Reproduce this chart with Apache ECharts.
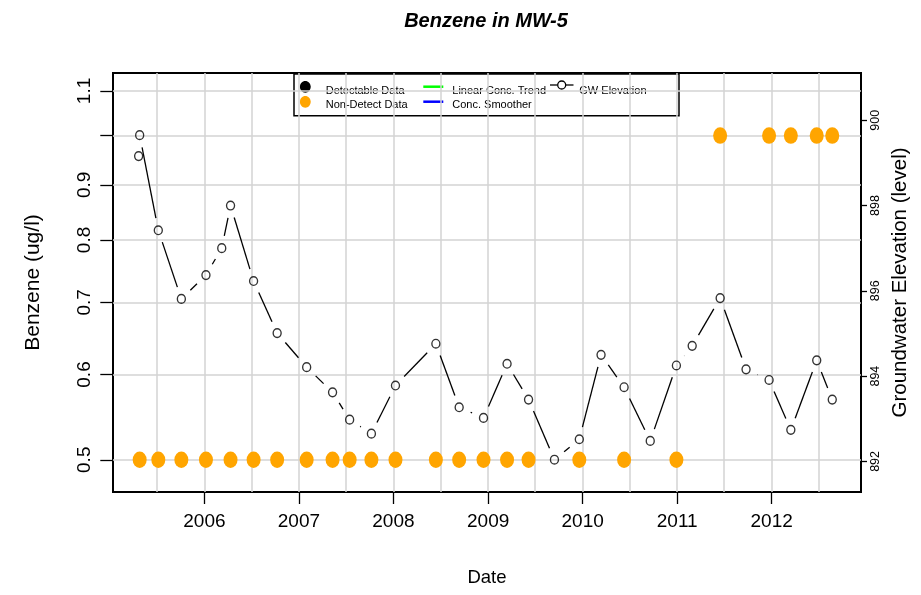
<!DOCTYPE html>
<html>
<head>
<meta charset="utf-8">
<title>Benzene in MW-5</title>
<script src="https://cdn.jsdelivr.net/npm/echarts@6/dist/echarts.min.js"></script>
<style>
  html, body { margin: 0; padding: 0; background: #ffffff; }
  #chart { width: 921px; height: 595px; }
</style>
</head>
<body>
<div id="chart"></div>
<script>
// Groundwater elevation readings (right axis)
const gwDates = [
  '2005-04-22', '2005-04-26', '2005-07-07', '2005-10-04', '2006-01-07', '2006-03-09',
  '2006-04-12', '2006-07-10', '2006-10-09', '2007-01-31', '2007-05-11', '2007-07-16',
  '2007-10-08', '2008-01-09', '2008-06-13', '2008-09-11', '2008-12-14', '2009-03-15',
  '2009-06-06', '2009-09-14', '2009-12-19', '2010-03-13', '2010-06-10', '2010-09-19',
  '2010-12-29', '2011-02-28', '2011-06-16', '2011-09-24', '2011-12-22', '2012-03-15',
  '2012-06-23', '2012-08-22'
];
const gwLevels = [
  899.16, 899.65, 897.42, 895.81, 896.37, 897.00,
  898.00, 896.23, 895.01, 894.21, 893.62, 892.98,
  892.65, 893.78, 894.76, 893.27, 893.02, 894.29,
  893.45, 892.04, 892.52, 894.50, 893.74, 892.48,
  894.25, 894.71, 895.83, 894.16, 893.91, 892.74,
  894.37, 893.45
];

// Benzene results reported below detection limit (left axis, ug/l)
const ndDates = [
  '2005-04-26', '2005-07-07', '2005-10-04', '2006-01-07', '2006-04-12', '2006-07-10',
  '2006-10-09', '2007-01-31', '2007-05-11', '2007-07-16', '2007-10-08', '2008-01-09',
  '2008-06-13', '2008-09-11', '2008-12-14', '2009-03-15', '2009-06-06', '2009-12-19',
  '2010-06-10', '2010-12-29', '2011-06-16', '2011-12-22', '2012-03-15', '2012-06-23',
  '2012-08-22'
];
const ndValues = [
  0.5, 0.5, 0.5, 0.5, 0.5, 0.5,
  0.5, 0.5, 0.5, 0.5, 0.5, 0.5,
  0.5, 0.5, 0.5, 0.5, 0.5, 0.5,
  0.5, 0.5, 1.0, 1.0, 1.0, 1.0,
  1.0
];

// Axis ticks and labels
const yearTicks = ['2006-01-01', '2007-01-01', '2008-01-01', '2009-01-01', '2010-01-01', '2011-01-01', '2012-01-01'];
const gridDates = [
  '2005-07-01', '2006-01-01', '2006-07-01', '2007-01-01', '2007-07-01', '2008-01-01', '2008-07-01',
  '2009-01-01', '2009-07-01', '2010-01-01', '2010-07-01', '2011-01-01', '2011-07-01', '2012-01-01',
  '2012-07-01'
];
const concTicks = [0.5, 0.6, 0.7, 0.8, 0.9, 1.0, 1.1];
const concLabels = ['0.5', '0.6', '0.7', '0.8', '0.9', '', '1.1'];
const levelTicks = [892, 894, 896, 898, 900];

const xRange = ['2005-01-13', '2012-12-11'];
const concRange = [0.4667, 1.1431];
const levelRange = [891.283, 901.108];

const FONT = '"Liberation Sans", Arial, Helvetica, sans-serif';

// dates are placed on a millisecond value scale
function toTime(s) {
  const [y, m, d] = s.split('-').map(Number);
  return Date.UTC(y, m - 1, d);
}
// concentration axis is logarithmic: values are placed on a natural-log value scale
const toLog = (v) => Math.log(v);

const chart = echarts.init(document.getElementById('chart'), null, { renderer: 'canvas' });

const gwPoints = gwDates.map((d, i) => [toTime(d), gwLevels[i]]);
const gwSegments = [];
for (let i = 0; i < gwPoints.length - 1; i++) {
  gwSegments.push([gwPoints[i][0], gwPoints[i][1], gwPoints[i + 1][0], gwPoints[i + 1][1]]);
}
const ndPoints = ndDates.map((d, i) => [toTime(d), toLog(ndValues[i])]);

// Legend drawn as plain graphics inside a bordered box
const legendText = (x, y, text) => ({
  type: 'text', x, y,
  style: { text, fill: '#000', font: '11px ' + FONT, textVerticalAlign: 'middle' }
});
const legendGraphics = [
  { type: 'rect', shape: { x: 294, y: 74, width: 385, height: 41.7 },
    style: { fill: 'none', stroke: '#000', lineWidth: 1.5 } },
  { type: 'ellipse', shape: { cx: 305.3, cy: 86.8, rx: 5.4, ry: 5.9 }, style: { fill: '#000' } },
  { type: 'ellipse', shape: { cx: 305.3, cy: 101.8, rx: 5.4, ry: 5.9 }, style: { fill: '#FFA500' } },
  legendText(325.7, 91, 'Detectable Data'),
  legendText(325.7, 104.5, 'Non-Detect Data'),
  { type: 'line', shape: { x1: 423.3, y1: 86.7, x2: 443.3, y2: 86.7 }, style: { stroke: '#00FF00', lineWidth: 2.5 } },
  { type: 'line', shape: { x1: 423.3, y1: 101.7, x2: 443.3, y2: 101.7 }, style: { stroke: '#0000FF', lineWidth: 2.5 } },
  legendText(452.3, 91, 'Linear Conc. Trend'),
  legendText(452.3, 104.5, 'Conc. Smoother'),
  { type: 'line', shape: { x1: 550, y1: 85, x2: 557.5, y2: 85 }, style: { stroke: '#000', lineWidth: 1.3 } },
  { type: 'line', shape: { x1: 566, y1: 85, x2: 573.5, y2: 85 }, style: { stroke: '#000', lineWidth: 1.3 } },
  { type: 'circle', shape: { cx: 561.7, cy: 85, r: 4 }, style: { fill: 'none', stroke: '#000', lineWidth: 1.3 } },
  legendText(579.3, 91, 'GW Elevation')
];

const option = {
  backgroundColor: '#ffffff',
  animation: false,
  title: {
    text: 'Benzene in MW-5',
    left: 481, top: 6, textAlign: 'center',
    textStyle: { fontFamily: FONT, fontSize: 20, fontWeight: 'bold', fontStyle: 'italic', color: '#000' }
  },
  grid: {
    left: 113, right: 60, top: 73, bottom: 103,
    show: true, borderColor: '#000', borderWidth: 2, backgroundColor: 'transparent'
  },
  xAxis: [
    {
      type: 'value',
      min: toTime(xRange[0]), max: toTime(xRange[1]),
      name: 'Date', nameLocation: 'middle', nameGap: 76,
      nameTextStyle: { fontFamily: FONT, fontSize: 18.5, color: '#000' },
      axisLine: { show: false, onZero: false },
      axisTick: { show: true, length: 12, lineStyle: { color: '#000', width: 1.3 },
                  customValues: yearTicks.map(toTime) },
      axisLabel: { show: true, margin: 20, fontFamily: FONT, fontSize: 19, color: '#000',
                   customValues: yearTicks.map(toTime),
                   formatter: (v) => String(new Date(v + 43200000).getUTCFullYear()) },
      splitLine: { show: false }
    },
    {
      type: 'value',
      min: toTime(xRange[0]), max: toTime(xRange[1]),
      position: 'bottom',
      axisLine: { show: false, onZero: false },
      axisTick: { show: false, customValues: gridDates.map(toTime) },
      axisLabel: { show: false, customValues: gridDates.map(toTime) },
      splitLine: { show: true, lineStyle: { color: '#d3d3d3', width: 1.5 } }
    }
  ],
  yAxis: [
    {
      type: 'value',
      min: toLog(concRange[0]), max: toLog(concRange[1]),
      name: 'Benzene (ug/l)', nameLocation: 'middle', nameGap: 69,
      nameTextStyle: { fontFamily: FONT, fontSize: 21, color: '#000' },
      axisLine: { show: false, onZero: false },
      axisTick: { show: true, length: 12.7, lineStyle: { color: '#000', width: 1.3 },
                  customValues: concTicks.map(toLog) },
      axisLabel: { show: true, rotate: 90, margin: 19, fontFamily: FONT, fontSize: 19, color: '#000',
                   customValues: concTicks.map(toLog),
                   formatter: (v) => {
                     let best = 0;
                     concTicks.forEach((t, i) => { if (Math.abs(toLog(t) - v) < Math.abs(toLog(concTicks[best]) - v)) best = i; });
                     return concLabels[best];
                   } },
      splitLine: { show: true, lineStyle: { color: '#d3d3d3', width: 1.5 } }
    },
    {
      type: 'value',
      min: levelRange[0], max: levelRange[1],
      position: 'right',
      name: 'Groundwater Elevation (level)', nameLocation: 'middle', nameGap: 26,
      nameTextStyle: { fontFamily: FONT, fontSize: 20.5, color: '#000' },
      axisLine: { show: false, onZero: false },
      axisTick: { show: true, length: 6, lineStyle: { color: '#000', width: 1.3 },
                  customValues: levelTicks },
      axisLabel: { show: true, rotate: 90, margin: 8, fontFamily: FONT, fontSize: 12.5, color: '#000',
                   customValues: levelTicks,
                   formatter: (v) => String(Math.round(v)) },
      splitLine: { show: false }
    }
  ],
  series: [
    {
      name: 'Non-Detect Data',
      type: 'scatter',
      xAxisIndex: 0, yAxisIndex: 0,
      data: ndPoints,
      symbol: 'circle',
      symbolSize: [14, 16.5],
      itemStyle: { color: '#FFA500', opacity: 1 },
      silent: true,
      z: 3
    },
    {
      name: 'GW Elevation line',
      type: 'custom',
      xAxisIndex: 0, yAxisIndex: 1,
      data: gwSegments,
      encode: { x: [0, 2], y: [1, 3] },
      renderItem: (params, api) => {
        const p0 = api.coord([api.value(0), api.value(1)]);
        const p1 = api.coord([api.value(2), api.value(3)]);
        const dx = p1[0] - p0[0], dy = p1[1] - p0[1];
        const len = Math.hypot(dx, dy);
        const gap = 12.5;
        if (len <= 2 * gap) return { type: 'group', children: [] };
        const ux = dx / len, uy = dy / len;
        return {
          type: 'line',
          shape: { x1: p0[0] + ux * gap, y1: p0[1] + uy * gap, x2: p1[0] - ux * gap, y2: p1[1] - uy * gap },
          style: { stroke: '#000', lineWidth: 1.3 }
        };
      },
      silent: true,
      z: 4
    },
    {
      name: 'GW Elevation',
      type: 'scatter',
      xAxisIndex: 0, yAxisIndex: 1,
      data: gwPoints,
      symbol: 'circle',
      symbolSize: [8, 8.7],
      itemStyle: { color: 'rgba(0,0,0,0)', borderColor: '#000', borderWidth: 1.4 },
      silent: true,
      z: 5
    }
  ],
  graphic: legendGraphics
};

chart.setOption(option);
</script>
</body>
</html>
